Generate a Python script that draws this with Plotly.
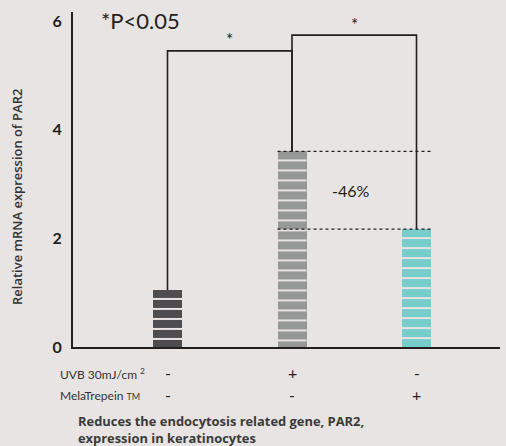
import plotly.graph_objects as go

# ---- data ----
categories = ["Control", "UVB", "UVB + MelaTrepein"]
values = [1.05, 3.6, 2.17]
uvb_signs = ["-", "+", "-"]
mela_signs = ["-", "-", "+"]
y_ticks = [0, 2, 4, 6]
sig_pairs = [(0, 1), (1, 2)]
sig_levels = [5.45, 5.74]
sig_labels = ["*", "*"]
reduction_label = "-46%"

# ---- style ----
BG = "#e7e4e3"
bar_colors = ["#4d4d4f", "#969898", "#76cdc9"]
INK = "#231f20"
FONT = "Lato"
W, H = 506, 446
ML, MR, MT, MB = 73, 6, 12, 99
PW, PH = W - ML - MR, H - MT - MB
PXU = 54.33            # pixels per y unit
BAR_W = 0.233
STRIPE_PERIOD, STRIPE_GAP = 10, 2   # px
x_idx = list(range(len(categories)))


def px_x(p):
    return (p - ML) / PW


def px_y(p):
    return (H - MB - p) / PH


fig = go.Figure()
fig.add_trace(go.Bar(
    x=x_idx, y=values, width=BAR_W,
    marker=dict(color=bar_colors, line=dict(width=0)),
    hoverinfo="skip", showlegend=False,
))

# horizontal stripe gaps inside bars (top-aligned, every 10 px)
for k, v in zip(x_idx, values):
    off = STRIPE_PERIOD - STRIPE_GAP / 2
    while v - off / PXU > 0.02:
        yy = v - off / PXU
        fig.add_shape(type="line", x0=k - BAR_W / 2, x1=k + BAR_W / 2, y0=yy, y1=yy,
                      line=dict(color=BG, width=STRIPE_GAP), layer="above")
        off += STRIPE_PERIOD

# significance brackets
for (i, j), lvl, lab in zip(sig_pairs, sig_levels, sig_labels):
    fig.add_shape(type="path",
                  path=f"M {i},{values[i]} L {i},{lvl} L {j},{lvl} L {j},{values[j]}",
                  line=dict(color=INK, width=1.6), layer="above")
    fig.add_annotation(x=(i + j) / 2, y=lvl, text=lab, showarrow=False,
                       yshift=11, font=dict(family=FONT, size=17, color=INK))

# dotted reference lines
for v in (values[1], values[2]):
    fig.add_shape(type="line", x0=1 - BAR_W / 2, x1=2 + BAR_W / 2, y0=v, y1=v,
                  line=dict(color=INK, width=1.4, dash="dot"), layer="above")
fig.add_annotation(x=1.47, y=(values[1] + values[2]) / 2, text=reduction_label,
                   showarrow=False, font=dict(family=FONT, size=16, color=INK))

# P value note
fig.add_annotation(xref="paper", yref="paper", x=px_x(99), y=px_y(20),
                   xanchor="left", yanchor="middle", text="*P<0.05", showarrow=False,
                   font=dict(family=FONT, size=22, color=INK))

# y axis title
fig.add_annotation(xref="paper", yref="paper", x=px_x(17), y=px_y(197),
                   xanchor="center", yanchor="middle",
                   text="Relative mRNA expression of PAR2", textangle=-90,
                   showarrow=False,
                   font=dict(family="Open Sans", size=13, color="#333333", weight=600))

# treatment table
fig.add_annotation(xref="paper", yref="paper", x=px_x(58), y=px_y(374),
                   xanchor="left", yanchor="middle",
                   text="UVB 30mJ/cm <sup>2</sup>", showarrow=False,
                   font=dict(family=FONT, size=12, color="#333333"))
fig.add_annotation(xref="paper", yref="paper", x=px_x(58), y=px_y(395),
                   xanchor="left", yanchor="middle",
                   text="MelaTrepein <span style='font-size:9px'>TM</span>",
                   showarrow=False, font=dict(family=FONT, size=12, color="#333333"))
for k in x_idx:
    fig.add_annotation(x=k, yref="paper", y=px_y(373), yanchor="middle",
                       text=uvb_signs[k], showarrow=False,
                       font=dict(family=FONT, size=16, color=INK))
    fig.add_annotation(x=k, yref="paper", y=px_y(394), yanchor="middle",
                       text=mela_signs[k], showarrow=False,
                       font=dict(family=FONT, size=16, color=INK))

# caption
fig.add_annotation(xref="paper", yref="paper", x=px_x(76), y=px_y(429),
                   xanchor="left", yanchor="middle", align="left",
                   text="Reduces the endocytosis related gene, PAR2,<br>expression in keratinocytes",
                   showarrow=False,
                   font=dict(family="Open Sans", size=12.9, color="#3a3a3a", weight="bold"))

left = -(167.5 - ML) / 124.5
right = (W - MR - 167.5) / 124.5
fig.update_layout(
    width=W, height=H,
    margin=dict(l=ML, r=MR, t=MT, b=MB, pad=0),
    paper_bgcolor=BG, plot_bgcolor=BG,
    xaxis=dict(range=[left, right], showgrid=False, zeroline=False,
               showticklabels=False, ticks="", showline=True,
               linecolor=INK, linewidth=2, fixedrange=True),
    yaxis=dict(range=[0, PH / PXU], tickvals=y_ticks,
               ticktext=[str(t) for t in y_ticks], showgrid=False, zeroline=False,
               ticks="", showline=True, linecolor=INK, linewidth=2,
               ticklabelstandoff=6,
               tickfont=dict(family=FONT, size=16, color=INK, weight="bold"),
               fixedrange=True),
    bargap=0,
)

fig.write_html("out.html", config={"displayModeBar": False},
               post_script=f"document.body.style.margin='0';document.body.style.background='{BG}';")
